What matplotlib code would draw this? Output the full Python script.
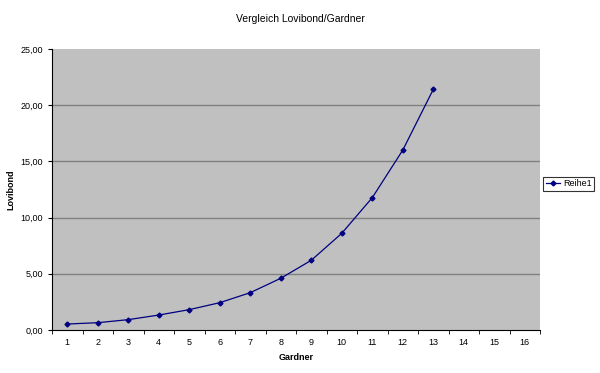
import numpy as np
import matplotlib
matplotlib.use("Agg")
from matplotlib import pyplot as plt
from matplotlib.ticker import FuncFormatter

plt.rcParams['font.family'] = ['Liberation Sans', 'DejaVu Sans']

# Daten
gardner = list(range(1, 17))
gardner_punkte = [1, 2, 3, 4, 5, 6, 7, 8, 9, 10, 11, 12, 13]
lovibond = [0.53, 0.65, 0.92, 1.33, 1.81, 2.43, 3.32, 4.6, 6.2, 8.6, 11.77, 16.0, 21.4]
y_ticks = [0, 5, 10, 15, 20, 25]

fig = plt.figure(figsize=(6, 3.73), dpi=100)
ax = fig.add_axes([0.0867, 0.1153, 0.8133, 0.7534])
ax.set_facecolor('#c0c0c0')

for y in y_ticks[1:-1]:
    ax.axhline(y, color='#808080', lw=1.0, zorder=1)

linie, = ax.plot(gardner_punkte, lovibond, color='#000080', lw=0.9, marker='D',
                 markersize=2.5, zorder=3, label='Reihe1')

ax.set_xlim(0.5, 16.5)
ax.set_ylim(0, 25)
ax.set_xticks(gardner)
ax.set_xticklabels([str(g) for g in gardner])
ax.set_xticks(np.arange(0.5, 17, 1), minor=True)
ax.tick_params(axis='x', which='major', length=0, labelsize=6.5, pad=6)
ax.tick_params(axis='x', which='minor', length=3, direction='out')
ax.set_yticks(y_ticks)
ax.yaxis.set_major_formatter(FuncFormatter(lambda v, p: f"{v:.2f}".replace('.', ',')))
ax.tick_params(axis='y', labelsize=6.5, length=3, direction='out')

for s in ['top', 'right']:
    ax.spines[s].set_visible(False)
ax.spines['left'].set_linewidth(0.8)
ax.spines['bottom'].set_linewidth(0.8)

ax.set_xlabel('Gardner', fontsize=6.5, fontweight='bold', labelpad=4)
ax.yaxis.set_label_coords(-0.075, 0.5)
ax.set_ylabel('Lovibond', fontsize=6.5, fontweight='bold')
fig.text(0.5, 0.95, 'Vergleich Lovibond/Gardner', ha='center', va='center', fontsize=7.5)

leg = fig.legend(handles=[linie], loc='center left', bbox_to_anchor=(0.905, 0.507),
                 fontsize=6.5, frameon=True, fancybox=False, edgecolor='black',
                 borderpad=0.3, handlelength=1.6, handletextpad=0.3, borderaxespad=0)
leg.get_frame().set_linewidth(0.8)

fig.savefig('out.png', dpi=100)
